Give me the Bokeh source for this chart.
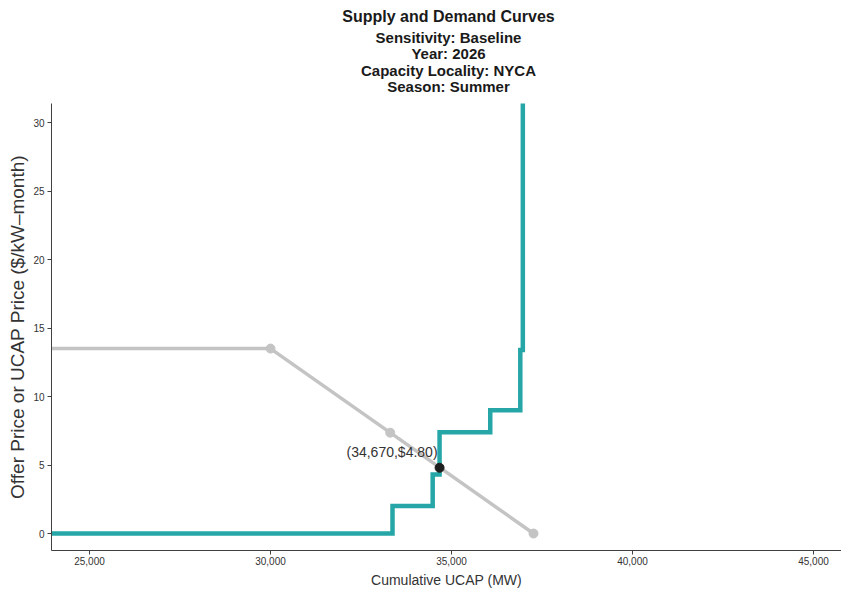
from bokeh.plotting import figure
from bokeh.layouts import column
from bokeh.models import Range1d, FixedTicker, NumeralTickFormatter, Label
from bokeh.core.properties import value
from bokeh.embed import file_html
from bokeh.resources import INLINE

# ---- data ----
supply_mw = [20000, 33370, 33370, 34480, 34480, 34670, 34670, 36070, 36070, 36900, 36900, 36970, 36970]
supply_price = [0.0, 0.0, 2.0, 2.0, 4.3, 4.3, 7.4, 7.4, 9.0, 9.0, 13.4, 13.4, 40.0]

demand_mw = [20000, 30000, 33306, 37265]
demand_price = [13.5, 13.5, 7.36, 0.0]
demand_pts_mw = [30000, 33306, 37265]
demand_pts_price = [13.5, 7.36, 0.0]

clear_mw = [34670]
clear_price = [4.80]
clear_label = "(34,670,$4.80)"

x_ticks = [25000, 30000, 35000, 40000, 45000]
y_ticks = [0, 5, 10, 15, 20, 25, 30]

title_main = "Supply and Demand Curves"
subtitles = ["Sensitivity: Baseline", "Year: 2026", "Capacity Locality: NYCA", "Season: Summer"]

FONT = "Liberation Sans"
TEAL = "#26A6A6"
GRAY = "#C4C4C4"
AX = "#404040"

W, H = 841, 592
TOP_H = 103                 # height of title strip (frame top of chart)
FL, FB = 51, 550            # frame left / bottom on the page

# ---- title strip (frames are aligned with the chart in the column) ----
pt = figure(width=W, height=TOP_H, output_backend="svg", toolbar_location=None,
            x_range=Range1d(FL, W), y_range=Range1d(TOP_H, 0),
            x_axis_location=None, y_axis_location=None,
            min_border=0, min_border_left=0, min_border_right=0,
            min_border_top=0, min_border_bottom=0, title=None)
pt.grid.visible = False
pt.outline_line_color = None
title_centers = [15.5, 36.5, 52.5, 69.5, 85.5]
title_texts = [title_main] + subtitles
title_sizes = ["16px", "15px", "15px", "15px", "15px"]
for t, cy, fs in zip(title_texts, title_centers, title_sizes):
    pt.text(x=[448], y=[cy], text=[t], text_align="center", text_baseline="middle",
            text_font=value(FONT), text_font_size=fs, text_font_style="bold",
            text_color="#1a1a1a")

# ---- chart ----
p = figure(width=W, height=H - TOP_H, output_backend="svg", toolbar_location=None,
           x_range=Range1d(23950, 45773), y_range=Range1d(-1.24, 31.39),
           title=None, min_border_left=FL, min_border_right=0,
           min_border_top=0, min_border_bottom=H - FB)

p.line(demand_mw, demand_price, line_color=GRAY, line_width=3.5)
p.scatter(demand_pts_mw, demand_pts_price, size=9, fill_color=GRAY, line_color=GRAY)
p.line(supply_mw, supply_price, line_color=TEAL, line_width=4.5, line_join="miter")
p.scatter(clear_mw, clear_price, size=9, fill_color="#1e1e1e", line_color="#1e1e1e")

p.add_layout(Label(x=clear_mw[0], y=clear_price[0], text=clear_label, text_align="right",
                   text_baseline="bottom", x_offset=-2, y_offset=8, text_font=FONT,
                   text_font_size="14px", text_color="#333333"))

p.xgrid.visible = False
p.ygrid.visible = False
p.outline_line_color = None
p.background_fill_color = "white"
p.border_fill_color = "white"

p.xaxis.ticker = FixedTicker(ticks=x_ticks)
p.xaxis.formatter = NumeralTickFormatter(format="0,0")
p.yaxis.ticker = FixedTicker(ticks=y_ticks)
p.xaxis.axis_label = "Cumulative UCAP (MW)"
p.yaxis.axis_label = "Offer Price or UCAP Price ($/kW\u2013month)"

for ax in (p.xaxis, p.yaxis):
    ax.axis_line_color = AX
    ax.major_tick_line_color = AX
    ax.major_tick_out = 4
    ax.major_tick_in = 0
    ax.minor_tick_line_color = None
    ax.major_label_text_font = FONT
    ax.major_label_text_font_size = "10px"
    ax.major_label_text_color = "#333333"
    ax.axis_label_text_font = FONT
    ax.axis_label_text_font_style = "normal"
    ax.axis_label_text_color = "#333333"

p.xaxis.major_label_standoff = 2
p.yaxis.major_label_standoff = 3
p.xaxis.axis_label_text_font_size = "14px"
p.xaxis.axis_label_standoff = 4
p.yaxis.axis_label_text_font_size = "19px"
p.yaxis.axis_label_standoff = 2

layout = column(pt, p, spacing=0)
open("out.html", "w").write(file_html(layout, INLINE))
